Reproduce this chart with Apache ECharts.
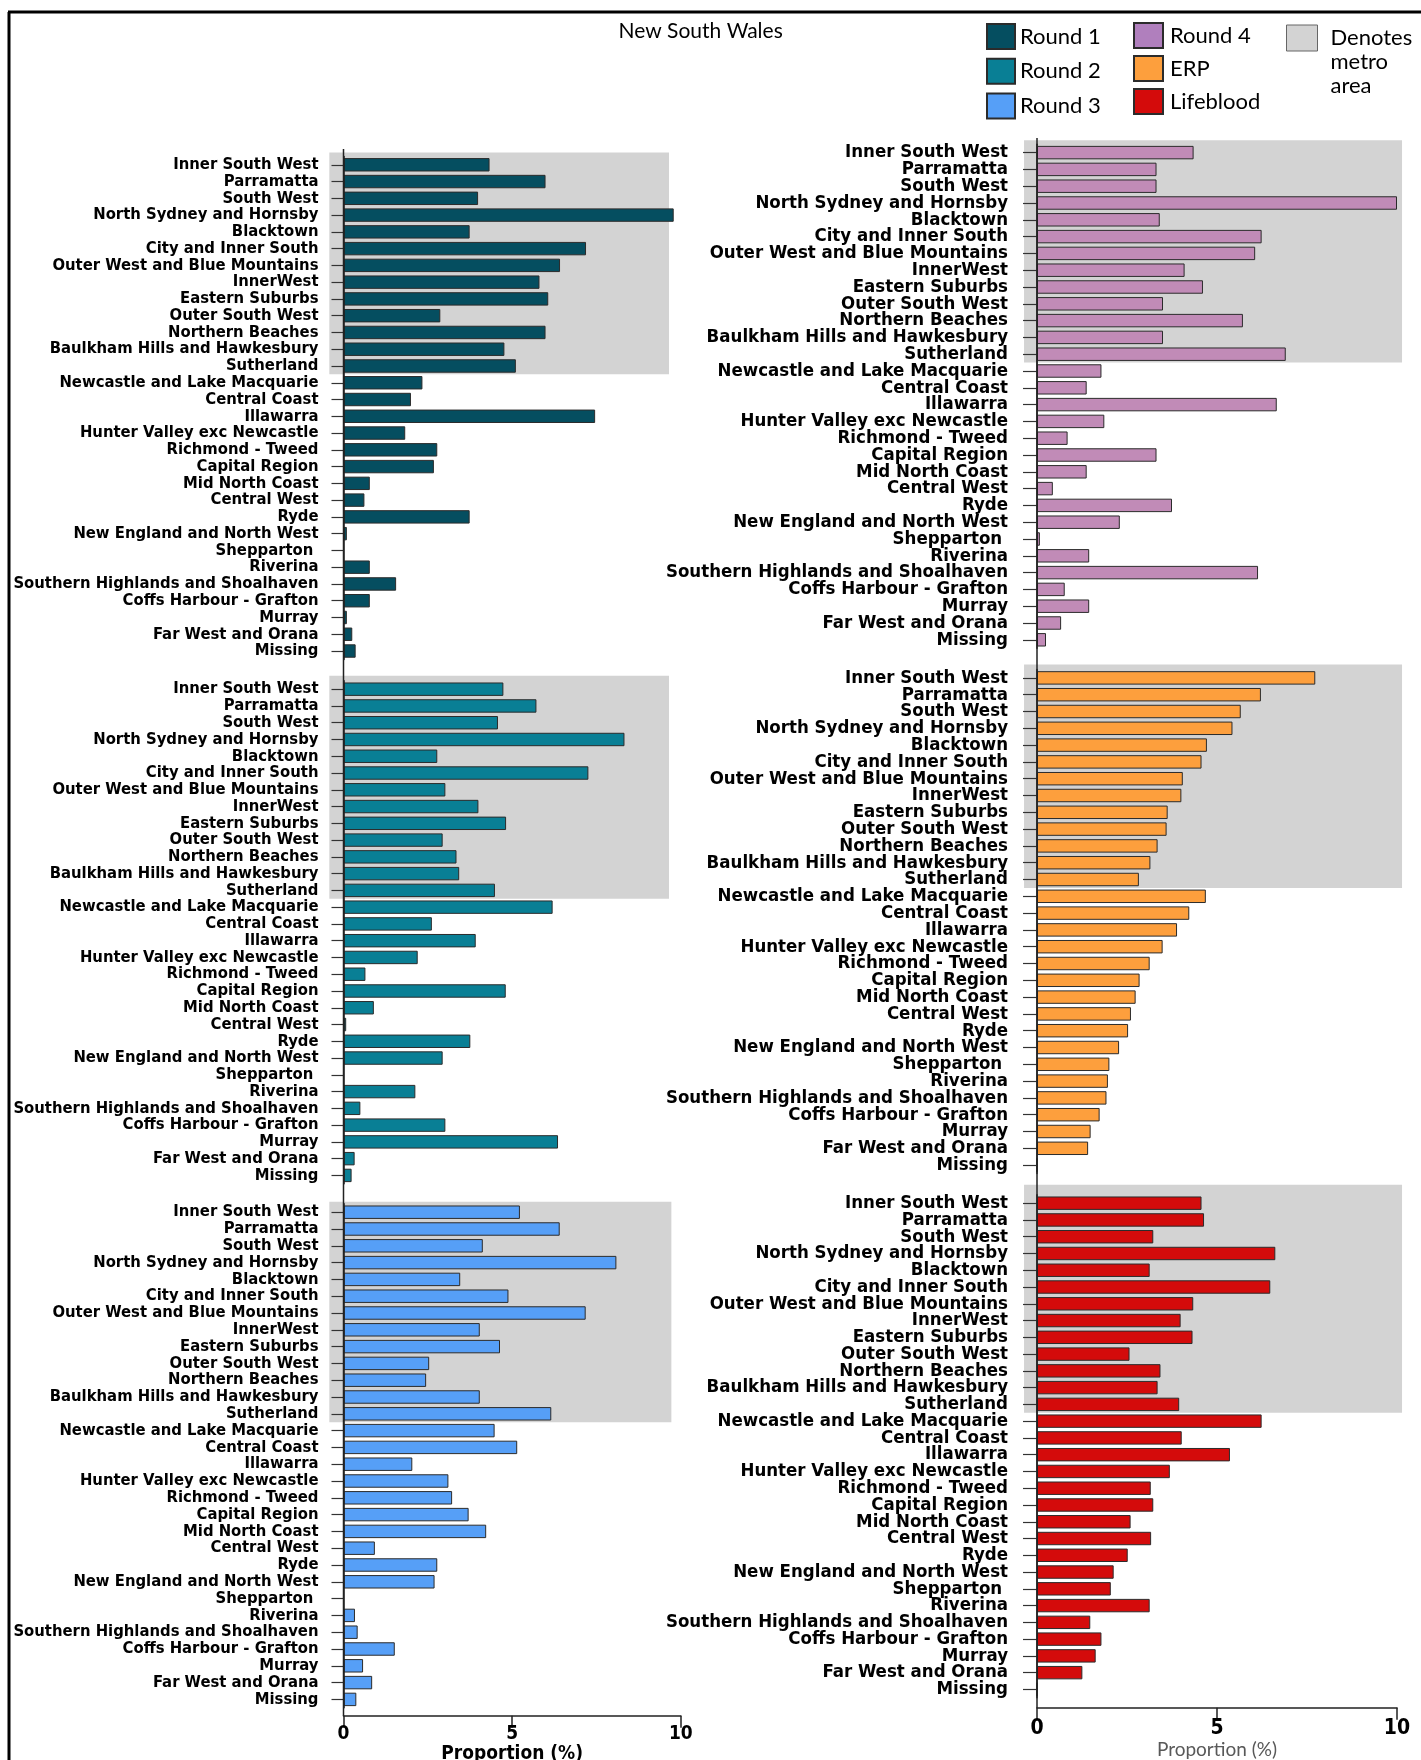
<!DOCTYPE html>
<html>
<head>
<meta charset="utf-8">
<script src="https://cdn.jsdelivr.net/npm/echarts@6/dist/echarts.min.js"></script>
<style>
html,body{margin:0;padding:0;background:#fff;}
#chart{width:1421px;height:1760px;}
</style>
</head>
<body>
<div id="chart"></div>
<script>
const categories = ['Inner South West','Parramatta','South West','North Sydney and Hornsby','Blacktown','City and Inner South','Outer West and Blue Mountains','InnerWest','Eastern Suburbs','Outer South West','Northern Beaches','Baulkham Hills and Hawkesbury','Sutherland','Newcastle and Lake Macquarie','Central Coast','Illawarra','Hunter Valley exc Newcastle','Richmond - Tweed','Capital Region','Mid North Coast','Central West','Ryde','New England and North West','Shepparton ','Riverina','Southern Highlands and Shoalhaven','Coffs Harbour - Grafton','Murray','Far West and Orana','Missing'];
const metroRegions = ['Inner South West','Parramatta','South West','North Sydney and Hornsby','Blacktown','City and Inner South','Outer West and Blue Mountains','InnerWest','Eastern Suburbs','Outer South West','Northern Beaches','Baulkham Hills and Hawkesbury','Sutherland'];

const round1 = [4.33,5.99,3.99,9.79,3.74,7.19,6.42,5.81,6.07,2.87,5.99,4.77,5.11,2.34,2.00,7.46,1.83,2.78,2.68,0.78,0.62,3.74,0.10,0,0.78,1.56,0.78,0.10,0.26,0.36];
const round2 = [4.74,5.72,4.58,8.33,2.78,7.26,3.02,4.00,4.82,2.94,3.35,3.43,4.49,6.20,2.62,3.92,2.20,0.65,4.81,0.90,0.08,3.76,2.94,0,2.13,0.50,3.02,6.36,0.33,0.24];
const round3 = [5.23,6.41,4.13,8.09,3.46,4.89,7.18,4.04,4.64,2.54,2.45,4.04,6.16,4.48,5.15,2.04,3.11,3.22,3.71,4.23,0.93,2.78,2.70,0,0.34,0.42,1.52,0.58,0.85,0.38];
const round4 = [4.35,3.32,3.32,10.0,3.41,6.24,6.06,4.10,4.61,3.50,5.72,3.50,6.91,1.79,1.38,6.66,1.87,0.85,3.32,1.38,0.44,3.75,2.30,0.08,1.45,6.14,0.77,1.45,0.67,0.25];
const erp = [7.73,6.22,5.66,5.43,4.72,4.57,4.05,4.01,3.63,3.60,3.35,3.15,2.83,4.69,4.23,3.89,3.49,3.13,2.85,2.74,2.61,2.53,2.28,2.01,1.97,1.93,1.74,1.49,1.42,0];
const lifeblood = [4.57,4.64,3.23,6.62,3.13,6.48,4.34,3.99,4.32,2.57,3.43,3.35,3.95,6.24,4.02,5.36,3.69,3.16,3.23,2.60,3.17,2.52,2.13,2.05,3.13,1.48,1.79,1.63,1.26,0];

const xTicks = [0, 5, 10];
const titleText = 'New South Wales';
const axisName = 'Proportion (%)';
const metroName = 'Denotes metro area';

const panels = [
  {name:'Round 1', data: round1, color:'#054e60'},
  {name:'Round 2', data: round2, color:'#097f95'},
  {name:'Round 3', data: round3, color:'#569ff7'},
  {name:'Round 4', data: round4, color:'#c18bb7'},
  {name:'ERP', data: erp, color:'#fd9f3d'},
  {name:'Lifeblood', data: lifeblood, color:'#d40b0b'}
];

const LABEL_FONT = "'Liberation Sans Narrow','DejaVu Sans Condensed',sans-serif";
const LEGEND_FONT = "Lato, 'Open Sans', sans-serif";

const grids = [
  {left:343.5, top:156.4, width:337.3, height:503},
  {left:343.5, top:680.8, width:337.3, height:503},
  {left:343.5, top:1203.8, width:337.3, height:504},
  {left:1037, top:144.2, width:360, height:504},
  {left:1037, top:669.5, width:360, height:504},
  {left:1037, top:1194.8, width:360, height:503}
].map(g => Object.assign({outerBoundsMode:'none', containLabel:false}, g));

const xAxes = grids.map((g, i) => {
  const right = i >= 3;
  const bottom = (i === 2 || i === 5);
  return {
    type:'value', gridIndex:i, min:xTicks[0], max:xTicks[xTicks.length-1], interval:5,
    show: bottom,
    offset: right ? 10 : 8,
    splitLine:{show:false},
    axisLine:{show:true, onZero:false, lineStyle:{color:'#222', width:1.5}},
    axisTick:{show:true, length:12, lineStyle:{color:'#222', width:1.5}},
    axisLabel:{fontFamily:LABEL_FONT, fontWeight:'bold', fontSize: right ? 21 : 19, color:'#000', margin: right ? 10 : 9},
    name: axisName, nameLocation:'middle',
    nameGap: right ? 33 : 27,
    nameTextStyle: right
      ? {fontFamily: LEGEND_FONT, fontSize:19, color:'#595959', fontWeight:'normal'}
      : {fontFamily: LABEL_FONT, fontSize:19, color:'#000', fontWeight:'bold'}
  };
});

const yAxes = grids.map((g, i) => {
  const right = i >= 3;
  return {
    type:'category', gridIndex:i, data:categories, inverse:true, z:3,
    axisLine:{show:true, lineStyle:{color:'#222', width:1.5}},
    axisTick:{show:true, alignWithLabel:true, length: right ? 14 : 12, lineStyle:{color:'#333', width:1.2}},
    axisLabel:{interval:0, fontFamily:LABEL_FONT, fontWeight:'bold', fontSize: right ? 18.5 : 16.5, color:'#000', margin: right ? 29 : 25}
  };
});

function metroRender(x0, x1, topExtra) {
  return function (params, api) {
    const band = api.size([0, 1])[1];
    const pTop = api.coord([x0, metroRegions[0]]);
    const pBot = api.coord([x1, metroRegions[metroRegions.length - 1]]);
    const y0 = pTop[1] - band / 2 - topExtra;
    const y1 = pBot[1] + band / 2;
    return {type:'rect', shape:{x:pTop[0], y:y0, width:pBot[0]-pTop[0], height:y1-y0}, style:{fill:'#d3d3d3'}, silent:true};
  };
}

const series = [];
const metroExtents = [
  [-0.42, 9.65, 4], [-0.42, 9.65, 5], [-0.42, 9.72, 2],
  [-0.36, 10.14, 4], [-0.36, 10.14, 5], [-0.36, 10.14, 10]
];
grids.forEach((g, i) => {
  const m = metroExtents[i];
  series.push({
    type:'custom', name: metroName, xAxisIndex:i, yAxisIndex:i, z:1, silent:true,
    itemStyle:{color:'#d3d3d3'},
    renderItem: metroRender(m[0], m[1], m[2]),
    data:[[0, metroRegions[0]]], clip:false
  });
});
panels.forEach((p, i) => {
  series.push({
    type:'bar', name:p.name, xAxisIndex:i, yAxisIndex:i, z:2,
    barWidth:'80%',
    itemStyle:{color:p.color, borderColor:'#2b2b2b', borderWidth:1},
    data:p.data
  });
});

const legendText = {fontFamily:LEGEND_FONT, fontSize:22, color:'#000'};

const option = {
  animation:false,
  backgroundColor:'#fff',
  title:{text:titleText, left:613.5, top:16, textStyle:{fontFamily:LEGEND_FONT, fontSize:21, fontWeight:'normal', color:'#000'}},
  legend:[
    {data:['Round 1','Round 2','Round 3'], orient:'vertical', left:986, top:23, padding:0, itemWidth:28, itemHeight:25, itemGap:7.8, icon:'rect', selectedMode:false, textStyle:legendText},
    {data:[{name:'Round 4', itemStyle:{color:'#b07fbd'}}, 'ERP', 'Lifeblood'], orient:'vertical', left:1133, top:22, padding:0, itemWidth:29, itemHeight:25, itemGap:6, icon:'rect', selectedMode:false, textStyle:Object.assign({padding:[0,0,0,2]}, legendText)},
    {data:[{name:metroName, itemStyle:{color:'#d3d3d3', borderColor:'#666', borderWidth:1}}], orient:'vertical', left:1286, top:-22, padding:0, itemWidth:31, itemHeight:26, icon:'rect', selectedMode:false,
     formatter: n => '\n\n' + n.split(' ').join('\n'),
     textStyle:{fontFamily:LEGEND_FONT, fontSize:22, color:'#000', lineHeight:24, padding:[0,0,0,8]}}
  ],
  grid: grids,
  xAxis: xAxes,
  yAxis: yAxes,
  series: series
};

const chart = echarts.init(document.getElementById('chart'), null, {renderer:'canvas'});
chart.setOption(option);

const xl = chart.convertToPixel({xAxisIndex:0}, 0);
const xr = chart.convertToPixel({xAxisIndex:3}, 0);
chart.setOption({
  graphic:[
    {type:'line', shape:{x1:8, y1:12, x2:1421, y2:12}, style:{stroke:'#000', lineWidth:3}, z:10},
    {type:'line', shape:{x1:9, y1:12, x2:9, y2:1760}, style:{stroke:'#000', lineWidth:3}, z:10},
    {type:'line', shape:{x1:xl, y1:149, x2:xl, y2:1716}, style:{stroke:'#222', lineWidth:1.5}, z:10},
    {type:'line', shape:{x1:xr, y1:138, x2:xr, y2:1708}, style:{stroke:'#222', lineWidth:1.5}, z:10}
  ]
});
</script>
</body>
</html>
